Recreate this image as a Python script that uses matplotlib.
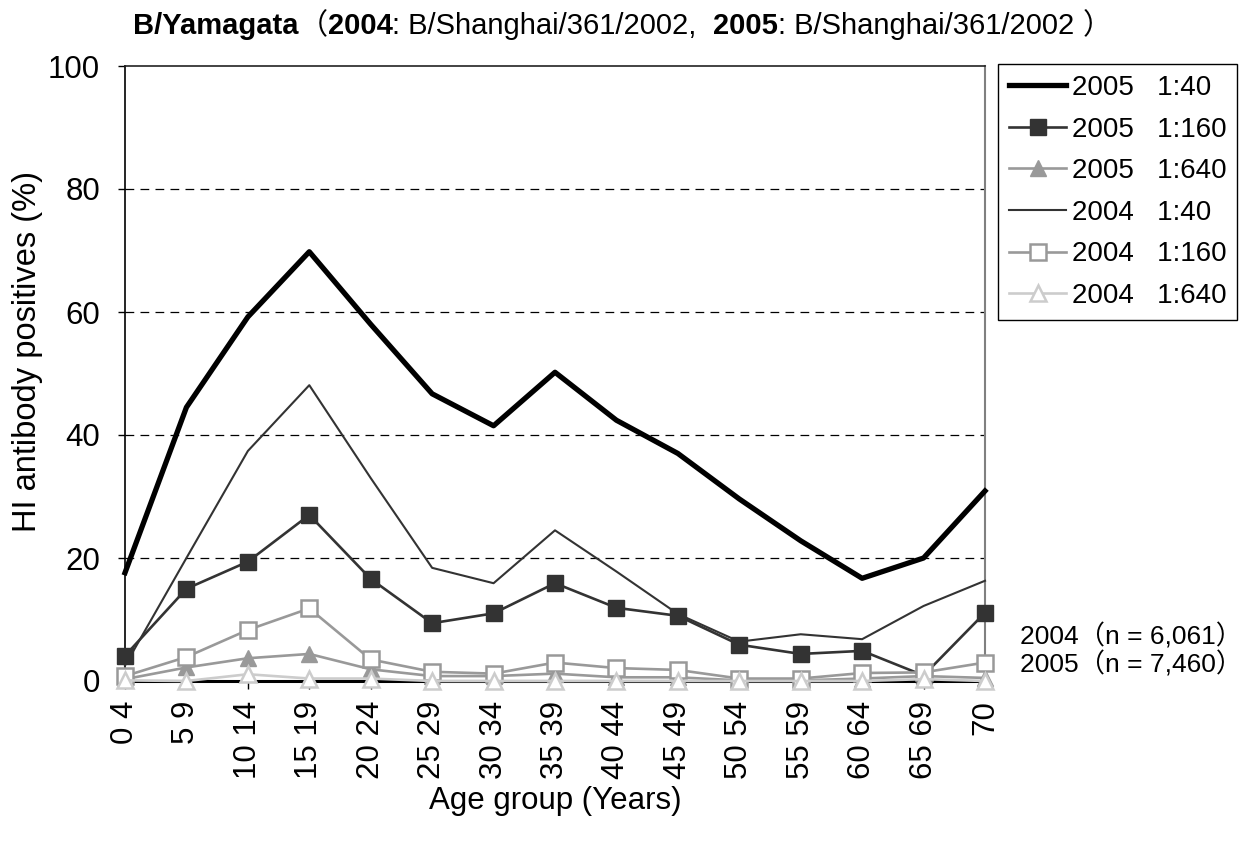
import numpy as np
import matplotlib
matplotlib.use("Agg")
import matplotlib.pyplot as plt

plt.rcParams['font.family'] = ['Liberation Sans', 'Noto Sans CJK JP', 'DejaVu Sans']

age_groups = ["0 4", "5 9", "10 14", "15 19", "20 24", "25 29", "30 34", "35 39",
              "40 44", "45 49", "50 54", "55 59", "60 64", "65 69", "70"]

y2005_40 = [17.6, 44.5, 59.2, 69.8, 58.0, 46.7, 41.5, 50.2, 42.4, 37.0, 29.6, 22.8, 16.7, 20.0, 30.9]
y2005_160 = [4.1, 15.0, 19.4, 27.0, 16.6, 9.4, 11.0, 15.9, 11.9, 10.6, 5.9, 4.4, 4.9, 0.9, 11.1]
y2005_640 = [0.3, 2.2, 3.7, 4.4, 1.9, 0.8, 0.8, 1.2, 0.6, 0.6, 0.1, 0.1, 0.4, 0.8, 0.5]
y2004_40 = [2.5, 20.0, 37.4, 48.1, 33.0, 18.4, 15.9, 24.5, 17.8, 10.9, 6.4, 7.6, 6.8, 12.2, 16.3]
y2004_160 = [0.8, 3.9, 8.3, 11.8, 3.5, 1.5, 1.2, 3.0, 2.1, 1.8, 0.4, 0.4, 1.3, 1.4, 3.0]
y2004_640 = [0.1, 0.0, 1.1, 0.4, 0.4, 0.0, 0.0, 0.0, 0.0, 0.0, 0.0, 0.0, 0.0, 0.3, 0.0]

labels = ["2005   1:40", "2005   1:160", "2005   1:640",
          "2004   1:40", "2004   1:160", "2004   1:640"]

W, H = 1242, 842
fig = plt.figure(figsize=(W / 100, H / 100), dpi=100)
ax = fig.add_axes([125 / W, (H - 681) / H, 860 / W, 615 / H])

x = np.arange(len(age_groups))
fs = 22.5

ax.plot(x, y2005_40, color='black', lw=3.8, label=labels[0], clip_on=False, zorder=5)
ax.plot(x, y2005_160, color='#333333', lw=1.9, marker='s', ms=11.5, mfc='#333333',
        mec='#333333', label=labels[1], clip_on=False, zorder=4)
ax.plot(x, y2005_640, color='#999999', lw=1.9, marker='^', ms=12, mfc='#999999',
        mec='#999999', label=labels[2], clip_on=False, zorder=4)
ax.plot(x, y2004_40, color='#333333', lw=1.5, label=labels[3], clip_on=False, zorder=4)
ax.plot(x, y2004_160, color='#999999', lw=1.9, marker='s', ms=11, mfc='white',
        mec='#999999', mew=1.8, label=labels[4], clip_on=False, zorder=4)
ax.plot(x, y2004_640, color='#cccccc', lw=1.9, marker='^', ms=11.5, mfc='white',
        mec='#cccccc', mew=1.8, label=labels[5], clip_on=False, zorder=4)

ax.set_xlim(0, len(age_groups) - 1)
ax.set_ylim(0, 100)
ax.set_yticks([0, 20, 40, 60, 80, 100])
ax.set_xticks(x)
ax.set_xticklabels(age_groups, rotation=90, va='top', ha='center', fontsize=fs)
ax.tick_params(axis='y', labelsize=fs, direction='out', length=5, width=1, pad=13)
ax.tick_params(axis='x', direction='out', length=6, width=1, pad=8)

for v in [20, 40, 60, 80]:
    ax.axhline(v, color='black', lw=0.9, ls=(0, (7, 5)), zorder=1)

ax.spines['left'].set_color('black')
ax.spines['left'].set_linewidth(1.2)
ax.spines['top'].set_color('#222222')
ax.spines['top'].set_linewidth(1.2)
ax.spines['right'].set_color('#808080')
ax.spines['right'].set_linewidth(1.5)
ax.spines['bottom'].set_color('black')
ax.spines['bottom'].set_linewidth(2.2)

ax.set_xlabel("Age group (Years)", fontsize=fs, labelpad=5)
ax.set_ylabel("HI antibody positives (%)", fontsize=23.5)
ax.yaxis.set_label_coords(-0.0955, 0.535)

lfs = 20
leg = ax.legend(loc='upper left', bbox_to_anchor=(998 / W, (H - 64) / H),
                bbox_transform=fig.transFigure, fontsize=lfs, frameon=True,
                fancybox=False, framealpha=1, edgecolor='black', borderpad=0.4,
                handlelength=2.05, handletextpad=0.2, labelspacing=0.56,
                borderaxespad=0)
leg.get_frame().set_linewidth(1.0)

# n annotations
fig.text(1020 / W, (H - 644) / H, "2004（n = 6,061）", fontsize=19, va='baseline', ha='left')
fig.text(1020 / W, (H - 673) / H, "2005（n = 7,460）", fontsize=19, va='baseline', ha='left')

# title built from pieces
t1 = fig.text(133 / W, (H - 34) / H, "B/Yamagata", fontsize=21, fontweight='bold',
              va='baseline', ha='left')
ts = 21
pieces = [("（", 'normal', ts), ("2004", 'bold', ts),
          (": B/Shanghai/361/2002,  ", 'normal', ts), ("2005", 'bold', ts),
          (": B/Shanghai/361/2002 ", 'normal', ts), ("）", 'normal', ts)]
prev = t1
for txt, wt, s in pieces:
    prev = ax.annotate(txt, xy=(1, 0), xycoords=prev, fontsize=s, fontweight=wt,
                       va='bottom', ha='left', annotation_clip=False)

fig.savefig("out.png", dpi=100)
